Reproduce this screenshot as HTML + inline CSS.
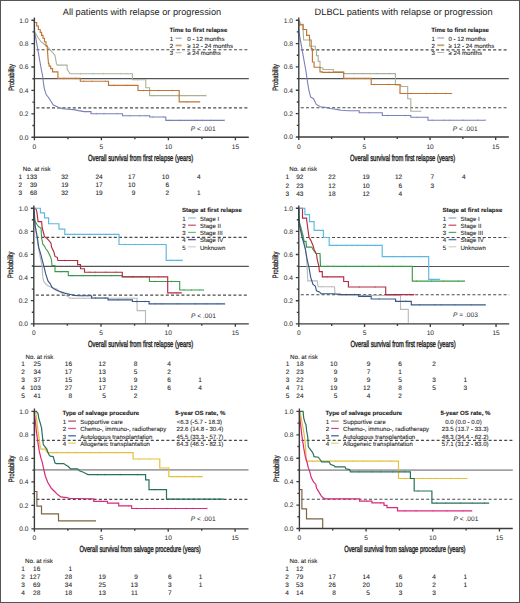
<!DOCTYPE html><html><head><meta charset="utf-8"><style>html,body{margin:0;padding:0;background:#fff}svg{display:block}text{font-family:"Liberation Sans", sans-serif;text-rendering:geometricPrecision;stroke-linejoin:round}</style></head><body>
<svg width="520" height="603" viewBox="0 0 520 603">
<rect x="0" y="0" width="520" height="603" fill="#fff"/>
<text x="62.8" y="14.7" font-size="9.22" fill="#222">All patients with relapse or progression</text>
<text x="314.6" y="14.7" font-size="9.25" fill="#222">DLBCL patients with relapse or progression</text>
<line x1="34.4" y1="78.6" x2="248.8" y2="78.6" stroke="#555" stroke-width="1.05"/>
<line x1="36.4" y1="49.7" x2="248.8" y2="49.7" stroke="#4a4a4a" stroke-width="1.15" stroke-dasharray="3 2.2"/>
<line x1="36.4" y1="107.85" x2="248.8" y2="107.85" stroke="#4a4a4a" stroke-width="1.15" stroke-dasharray="3 2.2"/>
<line x1="298.8" y1="78.6" x2="508.8" y2="78.6" stroke="#555" stroke-width="1.05"/>
<line x1="300.8" y1="49.8" x2="508.8" y2="49.8" stroke="#4a4a4a" stroke-width="1.15" stroke-dasharray="3 2.2"/>
<line x1="300.8" y1="107.75" x2="508.8" y2="107.75" stroke="#4a4a4a" stroke-width="1.15" stroke-dasharray="3 2.2"/>
<line x1="33.8" y1="266.35" x2="248.8" y2="266.35" stroke="#555" stroke-width="1.05"/>
<line x1="35.8" y1="237.4" x2="248.8" y2="237.4" stroke="#4a4a4a" stroke-width="1.15" stroke-dasharray="3 2.2"/>
<line x1="35.8" y1="295.1" x2="248.8" y2="295.1" stroke="#4a4a4a" stroke-width="1.15" stroke-dasharray="3 2.2"/>
<line x1="298.8" y1="266.4" x2="509.2" y2="266.4" stroke="#555" stroke-width="1.05"/>
<line x1="300.8" y1="237.5" x2="509.2" y2="237.5" stroke="#4a4a4a" stroke-width="1.15" stroke-dasharray="3 2.2"/>
<line x1="300.8" y1="294.7" x2="509.2" y2="294.7" stroke="#4a4a4a" stroke-width="1.15" stroke-dasharray="3 2.2"/>
<line x1="34.4" y1="469.9" x2="248.5" y2="469.9" stroke="#a2a2a2" stroke-width="1.7"/>
<line x1="36.4" y1="440.4" x2="248.5" y2="440.4" stroke="#4a4a4a" stroke-width="1.15" stroke-dasharray="3 2.2"/>
<line x1="36.4" y1="499.35" x2="248.5" y2="499.35" stroke="#4a4a4a" stroke-width="1.15" stroke-dasharray="3 2.2"/>
<line x1="299.4" y1="470.1" x2="512.8" y2="470.1" stroke="#a2a2a2" stroke-width="1.7"/>
<line x1="301.4" y1="440.4" x2="512.8" y2="440.4" stroke="#4a4a4a" stroke-width="1.15" stroke-dasharray="3 2.2"/>
<line x1="301.4" y1="499.25" x2="512.8" y2="499.25" stroke="#4a4a4a" stroke-width="1.15" stroke-dasharray="3 2.2"/>
<path d="M96.59 112.8v1.8M103.92 112.8v1.8M117.29 112.8v1.8M129.79 114.8v1.8M139.71 114.8v1.8M145.91 114.8v1.8M152.9 116.1v1.8M163.65 116.1v1.8M169.53 119.5v1.8M180.16 119.5v1.8M195.67 119.5v1.8M202.67 119.5v1.8M210.87 119.5v1.8M224.4 119.5v1.8" stroke="#7b7fba" stroke-width="0.8" fill="none" opacity="0.6"/>
<path d="M34.4 20.2V31.2L36 39.2L38 50.6L40 62L41.5 70.5L42.5 75L42.9 78.5L43.6 84.2L44.4 88.8L46.2 94.6L48.5 97.5L51.3 101.8L53.1 104.8L57.7 107L62.3 108.6L68.1 109.3L73.8 109.6L78.5 110.6L84.2 111.6H91V113.7H122.5V115.7H149.6V117H165.8V120.4H224.4" stroke="#7b7fba" stroke-width="1.1" fill="none" stroke-linejoin="miter"/>
<path d="M80.58 72.8v1.8M93.06 72.8v1.8M103.36 72.8v1.8M120.68 72.8v1.8M126.74 72.8v1.8M137.72 78.8v1.8M153.54 94.7v1.8M162.77 94.7v1.8M178.15 94.7v1.8M185.84 94.7v1.8M198.37 94.7v1.8M206.2 94.7v1.8" stroke="#a8b29a" stroke-width="0.8" fill="none" opacity="0.6"/>
<path d="M34.4 31.2L36 34L38 37.5L41 41.7L44 44L47.4 46.9L50.3 49.8L53 53L55 55.6L56.5 63.7L57.3 65.1H67.1V69L70 73.7H132.4V79.7H145.8V87.7H149.6V95.6H206.2" stroke="#a8b29a" stroke-width="1.1" fill="none" stroke-linejoin="miter"/>
<path d="M63.88 77.5v1.8M76.01 77.5v1.8M83.78 80.3v1.8M91.77 80.3v1.8M105.5 80.3v1.8M114.01 84.5v1.8M126.6 84.5v1.8M143.4 89.6v1.8M158.51 89.6v1.8M172.47 89.6v1.8M186.8 101v1.8M199.8 101v1.8" stroke="#c07434" stroke-width="0.8" fill="none" opacity="0.6"/>
<path d="M34.4 20.2V22.5H36.7V26H38.4V29.5H40.2V32.4H41.6V35.3H43V38.2H44.5V41.7H46V45.8H47.2L47.6 52L48 58L48.5 63.7H49.1V66.1H50.7V68.6H52.6V71.9H57.9V78.4H80.3V81.2H108.5V85.4H138V90.5H179.2V101.9H199.8" stroke="#c07434" stroke-width="1.15" fill="none" stroke-linejoin="miter"/>
<path d="M369.2 111.8v1.8M387.6 114.6v1.8M404.96 114.6v1.8M417.14 116.4v1.8M432.22 119.3v1.8M443.63 119.3v1.8M449.61 119.3v1.8M463.19 119.3v1.8M477.94 119.3v1.8M485.4 119.3v1.8" stroke="#7b7fba" stroke-width="0.8" fill="none" opacity="0.6"/>
<path d="M298.8 20.2V31.2L300 37.9L302 49.1L304 60.3L306 71.5L306.5 75L307.5 81.9L308.8 90L310.6 96.9L313.5 98.7L316.3 104.4L320.4 106.7L325 107.3L329.6 108.5L334.2 109L337.7 109.6L341.2 110.2L348.1 110.8H359.2V112.7H382.3V115.5H410.8V117.3H428V120.2H485.4" stroke="#7b7fba" stroke-width="1.1" fill="none" stroke-linejoin="miter"/>
<path d="M353.7 72.7v1.8M363 72.7v1.8M376.91 72.7v1.8M389.61 72.7v1.8M420.8 110.3v1.8" stroke="#a8b29a" stroke-width="0.8" fill="none" opacity="0.6"/>
<path d="M298.8 20.2V22H300.2V24.3H303.1V30.1L303.7 40H309.5V46.3H315.3V49.8H316.5V55.6H318.2V61.4H320V67.8H322.9V69.5H333.3V71.9H343.7V73.6H395.4V85H400.8V86.5H407.7V98.8H410.8V111.2H420.8" stroke="#a8b29a" stroke-width="1.1" fill="none" stroke-linejoin="miter"/>
<path d="M328.95 71.5v1.8M354.26 77.5v1.8M365.49 77.5v1.8M374.69 83.6v1.8M388.67 83.6v1.8M410.94 92.6v1.8M426.39 92.6v1.8M435.33 92.6v1.8M445.5 92.6v1.8M451.7 92.6v1.8" stroke="#c07434" stroke-width="0.8" fill="none" opacity="0.6"/>
<path d="M298.8 20.2V24.9H303.1V29.5H306.6V35.3H309.5V40H311.2V48.7H312.4V62H314.1V67.2H320V71.9H322.3V72.4H343.7V78.4H371.2V84.5H400V93.5H451.7" stroke="#c07434" stroke-width="1.15" fill="none" stroke-linejoin="miter"/>
<path d="M73.18 297.4v1.8M84.27 297.4v1.8M91.8 297.4v1.8M98.72 297.4v1.8M104.93 297.4v1.8M119.73 297.4v1.8M126.79 297.4v1.8M145.5 322.5v1.8" stroke="#b8b8b8" stroke-width="0.8" fill="none" opacity="0.6"/>
<path d="M33.8 208.2L34.5 220L36 232L38 245L40 256L42.2 267L42.8 277.4L43.9 282L45.7 283.8L47.4 285.5L53.2 287.9L56.7 289L62.5 293.7L68.3 296.6L70 298.3H137.1V310.6H145.5V323.4" stroke="#b8b8b8" stroke-width="1.1" fill="none" stroke-linejoin="miter"/>
<path d="M61.13 270.7v1.8M71.94 274.7v1.8M82.88 274.7v1.8M95.03 274.7v1.8M111.22 274.7v1.8M132.21 275.9v1.8M141.08 275.9v1.8M155.27 280.6v1.8M171.47 280.6v1.8M183.91 289.1v1.8M191.54 289.1v1.8M199.85 289.1v1.8M203.6 289.1v1.8" stroke="#3a9a4a" stroke-width="0.8" fill="none" opacity="0.6"/>
<path d="M33.8 208.2V219.2L37 224.5L38.7 226.8L41 228L41.6 237.8L42.8 244.2L44.5 246L45.7 248.8L47.4 250.6L49.1 254L50.3 256.4L51.5 259.9L52 265.5H55V271.6H68.3V275.6H122.3V276.8H149.4V281.5H179.7V290H203.6" stroke="#3a9a4a" stroke-width="1.1" fill="none" stroke-linejoin="miter"/>
<path d="M64.78 259.6v1.8M89.6 271.3v1.8M95.15 271.3v1.8M105.72 271.3v1.8M115.69 271.3v1.8M132.92 275.9v1.8M146.78 275.9v1.8M158.52 275.9v1.8M176.11 291.9v1.8M181.4 291.9v1.8" stroke="#b42a44" stroke-width="0.8" fill="none" opacity="0.6"/>
<path d="M33.8 208.2H35.2L36.4 210L37 212.9L38.1 221.6H41.6L42.2 228L43.3 232L44.5 236.7L46.2 237.8L48.6 240.1L50.9 243L51.5 247.1L53.8 251.7L55 256.4L57.3 257.5L57.9 260.5H77.6V264.6H80.5V268.7H84.5V272.2H122.3V276.8H167.7V292.8H181.4" stroke="#b42a44" stroke-width="1.15" fill="none" stroke-linejoin="miter"/>
<path d="M75 233.5v1.8M89.93 233.5v1.8M106.02 233.5v1.8M125.14 243.6v1.8M135.47 243.6v1.8M142.22 243.6v1.8M155.39 243.6v1.8M161.65 243.6v1.8M170.87 259.5v1.8M178.33 259.5v1.8M182.4 259.5v1.8" stroke="#5cb8e2" stroke-width="0.8" fill="none" opacity="0.6"/>
<path d="M33.8 208.2H40.4V212.9H44.5V217.9H48.6V223.7H59V229.1H64.8V234.4H119V244.5H166.2V260.4H182.4" stroke="#5cb8e2" stroke-width="1.15" fill="none" stroke-linejoin="miter"/>
<path d="M82.12 294.8v1.8M87.62 294.8v1.8M95.41 297.1v1.8M105.31 297.1v1.8M117.99 298.9v1.8M136.59 300.6v1.8M145.14 300.6v1.8M155.01 302.9v1.8M162 302.9v1.8M177.77 302.9v1.8M195.29 302.9v1.8M206.43 302.9v1.8M217.78 302.9v1.8M224.7 302.9v1.8" stroke="#38588a" stroke-width="0.8" fill="none" opacity="0.6"/>
<path d="M33.8 208.2L34.6 216L35.2 226.2L37.2 236.7L38.7 247.1L41 255.2L42.2 260L43.9 266.4L45.7 273.9L48 280.9L50.3 283.8L52 287.3L55 289.6L59 291.3L64.8 293.1L69.5 294.2L74.1 295.4L78.7 295.7H91.6V298H108V299.8H132.4V301.5H149.1V303.8H224.7" stroke="#38588a" stroke-width="1.15" fill="none" stroke-linejoin="miter"/>
<path d="M322.02 285.8v1.8M331.66 285.8v1.8M349.63 294.6v1.8M357.08 294.6v1.8M362.86 294.6v1.8M379.87 294.6v1.8M391.76 294.6v1.8M408.3 321.6v1.8" stroke="#b8b8b8" stroke-width="0.8" fill="none" opacity="0.6"/>
<path d="M298.8 208.2L299.6 222.7L302 230.9L303.7 237.8L306.6 257.5L307.8 280.9H317.1L318.2 286.7H334.5L335 293.7H340V295.5H400.5V309.4H408.3V322.5" stroke="#b8b8b8" stroke-width="1.1" fill="none" stroke-linejoin="miter"/>
<path d="M327.85 265.4v1.8M333.67 265.4v1.8M345.56 265.4v1.8M362.9 265.4v1.8M378.85 265.4v1.8M392.77 265.4v1.8M401.43 265.4v1.8M416.64 280.2v1.8M431.48 280.2v1.8M443.42 280.2v1.8M458.35 280.2v1.8M464.6 280.2v1.8" stroke="#3a9a4a" stroke-width="0.8" fill="none" opacity="0.6"/>
<path d="M298.8 208.2V220.4L300.2 225.6L303.1 236.7L303.7 241.3H306L306.6 247.1H311.8L313 249.4L315.9 253.5H320L320.5 266.3H412.3V281.1H464.6" stroke="#3a9a4a" stroke-width="1.15" fill="none" stroke-linejoin="miter"/>
<path d="M327.08 275.9v1.8M359.28 286.1v1.8M375.1 286.1v1.8M395.25 293.7v1.8M409.7 293.7v1.8M414 293.7v1.8" stroke="#b42a44" stroke-width="0.8" fill="none" opacity="0.6"/>
<path d="M298.8 208.2H302.5V218.1H306.6V219.2L307.8 228.5L309 237.2L310.7 240.1L313 245.4L314.1 249.4L316.5 254.1L317.1 258.7L317.6 261.2L318.8 265.8L319.4 271.6H322.3V276.8H343.7V281.5H348.4V287H385.7V294.6H414" stroke="#b42a44" stroke-width="1.15" fill="none" stroke-linejoin="miter"/>
<path d="M336.34 244.5v1.8M346.14 244.5v1.8M351.99 244.5v1.8M357.83 244.5v1.8M366.71 244.5v1.8M375.35 244.5v1.8M392.85 255.7v1.8M403.76 255.7v1.8M420.6 255.7v1.8M439.7 278.4v1.8" stroke="#5cb8e2" stroke-width="0.8" fill="none" opacity="0.6"/>
<path d="M298.8 208.2H304.9V214.6H309.5V221.6H314.1V230.3H323.4V237.5H329.2V245.4H382.2V256.6H428.7V279.3H439.7" stroke="#5cb8e2" stroke-width="1.15" fill="none" stroke-linejoin="miter"/>
<path d="M346.22 293.6v1.8M354.38 293.6v1.8M363.27 295.5v1.8M379.19 298.1v1.8M405.32 300.4v1.8M419.52 303.9v1.8M434.7 303.9v1.8M441.23 303.9v1.8M454.72 303.9v1.8M471.23 303.9v1.8M485.4 303.9v1.8" stroke="#38588a" stroke-width="0.8" fill="none" opacity="0.6"/>
<path d="M298.8 208.2V214.6L299.6 226.2L302 236.7L305.4 249.4L307.2 260L308.9 267L310.7 277.4L313 284.4L315.3 286.1L316.5 290.8L319.4 291.9L321.1 293.7H333.3L336.8 294.2H340.3V294.5H358.7V296.4H371.2V299H395.6V301.3H411.3V304.8H485.4" stroke="#38588a" stroke-width="1.15" fill="none" stroke-linejoin="miter"/>
<path d="M34.4 411.4V491.5H36.9V506.2H41.5V513.8H58.5V520.8H96" stroke="#7c6646" stroke-width="1.2" fill="none" stroke-linejoin="miter"/>
<path d="M56.4 451.7v1.8M67.69 451.7v1.8M75.35 451.7v1.8M90.39 451.7v1.8M99.92 451.7v1.8M115.11 451.7v1.8M139.27 458.1v1.8M149.62 458.1v1.8M177.6 475.7v1.8M185.16 475.7v1.8M192.19 475.7v1.8M199.52 475.7v1.8M202.3 475.7v1.8" stroke="#e4c03a" stroke-width="0.8" fill="none" opacity="0.6"/>
<path d="M34.4 411.4L35.8 413.1L37 422.4L38.1 431.7L39.3 439.8L40.2 446.8L41 449.1H45.1L47.4 452.6H133.1V459H159.8V468H168.8V476.6H202.3" stroke="#e4c03a" stroke-width="1.2" fill="none" stroke-linejoin="miter"/>
<path d="M97.45 473.7v1.8M104.72 473.7v1.8M120.22 473.7v1.8M137.58 473.7v1.8M154.8 488.8v1.8M170.55 498.3v1.8M176.22 498.3v1.8M193.47 498.3v1.8M206.83 498.3v1.8M218.7 498.3v1.8M223.5 498.3v1.8" stroke="#287060" stroke-width="0.8" fill="none" opacity="0.6"/>
<path d="M34.4 411.4H36.4L38.1 413.7L38.7 417.8L40.4 423.6L41.6 428.2L42.2 434L43.3 444.5L45.1 446.8L46.8 449.1L48 452.6L49.1 454.9L50.3 456.1L53.2 456.6L55 463L56.7 463.6H63.7L65.4 464.8L68.3 466.5L70.6 468.8H77.6L79.9 471.1L83.4 472.3L85.7 473.5L88 474.6H145.6V479.8H149V489.7H166.5V499.2H223.5" stroke="#287060" stroke-width="1.2" fill="none" stroke-linejoin="miter"/>
<path d="M100.17 500.5v1.8M128.31 504.9v1.8M136.71 507.6v1.8M145.76 507.6v1.8M154.17 507.6v1.8M166.77 507.6v1.8M175.4 507.6v1.8M185.97 507.6v1.8M193.06 507.6v1.8M207.1 507.6v1.8" stroke="#d82a7c" stroke-width="0.8" fill="none" opacity="0.6"/>
<path d="M34.4 411.4V414.3L35.2 420.1L36.4 431.7L37.5 439.8L39.3 451.4L41 458.4L42.2 461.9L43.9 470L45.4 476.2L47.7 482.3L51.5 488.5L54.6 491.5L57.7 494.6L60.8 496.9L66.9 497.7L70 498.5H76.2L91.5 498.9H93.7V501.4H107.5V503.2H118.7V505.8H131.7V508.5H207.1" stroke="#d82a7c" stroke-width="1.2" fill="none" stroke-linejoin="miter"/>
<path d="M299.4 411.4V489.6H301.9V508.8H306.5V518.8H322.7V528.1" stroke="#7c6646" stroke-width="1.2" fill="none" stroke-linejoin="miter"/>
<path d="M312.43 460.3v1.8M323.47 460.3v1.8M336.03 460.3v1.8M352.47 460.3v1.8M363.06 460.3v1.8M379.67 460.3v1.8M391.24 460.3v1.8M405.69 477.6v1.8M411.41 477.6v1.8M422.24 477.6v1.8M429.96 477.6v1.8M435.5 477.6v1.8M450.67 477.6v1.8M458.26 477.6v1.8M467.1 477.6v1.8" stroke="#e4c03a" stroke-width="0.8" fill="none" opacity="0.6"/>
<path d="M299.4 411.4L300.2 412L302 422.4L303.7 431.7L304.9 439.8L305.7 449.1L306.3 459.5L306.6 461.2H398.5V478.5H467.1" stroke="#e4c03a" stroke-width="1.2" fill="none" stroke-linejoin="miter"/>
<path d="M359.2 470.9v1.8M371.43 470.9v1.8M380.88 470.9v1.8M392.65 470.9v1.8M404.87 470.9v1.8M418.05 490.1v1.8M436.89 502.3v1.8M445.74 502.3v1.8M460.58 502.3v1.8M472.23 502.3v1.8M484.52 502.3v1.8M488.8 502.3v1.8" stroke="#287060" stroke-width="0.8" fill="none" opacity="0.6"/>
<path d="M299.4 411.4H303.1L303.7 417.8L304.9 422.4L306 424.7L306.6 430.5L307.8 437.5L308.3 446.8L310.1 449.1L311.8 451.4L313 453.2L314.1 456.6L318.2 457.2L320 459.5L321.7 461.9H329.2L330.4 464.2L334.5 465.9L335 466.8H345L345.8 468.8L349.6 469.6L350.4 471.8H410.4V478.5H414.2V491H431.9V503.2H488.8" stroke="#287060" stroke-width="1.2" fill="none" stroke-linejoin="miter"/>
<path d="M336.1 497.9v1.8M346.96 497.9v1.8M366.64 500.3v1.8M380.44 502v1.8M404.77 509.9v1.8M416.05 509.9v1.8M432.94 509.9v1.8M446.9 509.9v1.8M463.01 509.9v1.8M471.9 509.9v1.8" stroke="#d82a7c" stroke-width="0.8" fill="none" opacity="0.6"/>
<path d="M299.4 411.4V414.3L300.8 425.9L302 436.3L303.7 447.9L305.4 457.2L307.2 463L308.3 467.7L309.6 471.2L311.2 477.3L313.5 481.9L315.8 484.2L316.5 488.1L318.8 491.9L321.2 495.8L323.5 498.1L325.8 498.8H359.6V501.2H371.9V502.9H384V505.4H387V507.7H397.5V510.8H471.9" stroke="#d82a7c" stroke-width="1.2" fill="none" stroke-linejoin="miter"/>
<path d="M34.4 17.4V137.2M34.4 137.2H248.8M31.4 137.2H34.4M32.4 125.5H34.4M31.4 113.8H34.4M32.4 102.1H34.4M31.4 90.4H34.4M32.4 78.7H34.4M31.4 67H34.4M32.4 55.3H34.4M31.4 43.6H34.4M32.4 31.9H34.4M31.4 20.2H34.4M34.4 137.2V140.2M67.9 137.2V139.2M101.4 137.2V140.2M134.9 137.2V139.2M168.4 137.2V140.2M201.9 137.2V139.2M235.4 137.2V140.2" stroke="#3c3c3c" stroke-width="1.35" fill="none"/>
<text x="28.5" y="139.5" font-size="6.6" text-anchor="end" fill="#333" stroke="#333" stroke-width="0.05">0.0</text>
<text x="28.5" y="116.1" font-size="6.6" text-anchor="end" fill="#333" stroke="#333" stroke-width="0.05">0.2</text>
<text x="28.5" y="92.7" font-size="6.6" text-anchor="end" fill="#333" stroke="#333" stroke-width="0.05">0.4</text>
<text x="28.5" y="69.3" font-size="6.6" text-anchor="end" fill="#333" stroke="#333" stroke-width="0.05">0.6</text>
<text x="28.5" y="45.9" font-size="6.6" text-anchor="end" fill="#333" stroke="#333" stroke-width="0.05">0.8</text>
<text x="28.5" y="22.5" font-size="6.6" text-anchor="end" fill="#333" stroke="#333" stroke-width="0.05">1.0</text>
<text x="34.4" y="148.7" font-size="6.6" text-anchor="middle" fill="#333" stroke="#333" stroke-width="0.05">0</text>
<text x="101.4" y="148.7" font-size="6.6" text-anchor="middle" fill="#333" stroke="#333" stroke-width="0.05">5</text>
<text x="168.4" y="148.7" font-size="6.6" text-anchor="middle" fill="#333" stroke="#333" stroke-width="0.05">10</text>
<text x="235.4" y="148.7" font-size="6.6" text-anchor="middle" fill="#333" stroke="#333" stroke-width="0.05">15</text>
<path d="M298.8 17.4V137M298.8 137H508.8M295.8 137H298.8M296.8 125.32H298.8M295.8 113.64H298.8M296.8 101.96H298.8M295.8 90.28H298.8M296.8 78.6H298.8M295.8 66.92H298.8M296.8 55.24H298.8M295.8 43.56H298.8M296.8 31.88H298.8M295.8 20.2H298.8M298.8 137V140M331.61 137V139M364.43 137V140M397.24 137V139M430.05 137V140M462.86 137V139M495.68 137V140" stroke="#3c3c3c" stroke-width="1.35" fill="none"/>
<text x="292.9" y="139.3" font-size="6.6" text-anchor="end" fill="#333" stroke="#333" stroke-width="0.05">0.0</text>
<text x="292.9" y="115.94" font-size="6.6" text-anchor="end" fill="#333" stroke="#333" stroke-width="0.05">0.2</text>
<text x="292.9" y="92.58" font-size="6.6" text-anchor="end" fill="#333" stroke="#333" stroke-width="0.05">0.4</text>
<text x="292.9" y="69.22" font-size="6.6" text-anchor="end" fill="#333" stroke="#333" stroke-width="0.05">0.6</text>
<text x="292.9" y="45.86" font-size="6.6" text-anchor="end" fill="#333" stroke="#333" stroke-width="0.05">0.8</text>
<text x="292.9" y="22.5" font-size="6.6" text-anchor="end" fill="#333" stroke="#333" stroke-width="0.05">1.0</text>
<text x="298.8" y="148.5" font-size="6.6" text-anchor="middle" fill="#333" stroke="#333" stroke-width="0.05">0</text>
<text x="364.43" y="148.5" font-size="6.6" text-anchor="middle" fill="#333" stroke="#333" stroke-width="0.05">5</text>
<text x="430.05" y="148.5" font-size="6.6" text-anchor="middle" fill="#333" stroke="#333" stroke-width="0.05">10</text>
<text x="495.68" y="148.5" font-size="6.6" text-anchor="middle" fill="#333" stroke="#333" stroke-width="0.05">15</text>
<path d="M33.8 205.4V323.8M33.8 323.8H248.8M30.8 323.8H33.8M31.8 312.24H33.8M30.8 300.68H33.8M31.8 289.12H33.8M30.8 277.56H33.8M31.8 266H33.8M30.8 254.44H33.8M31.8 242.88H33.8M30.8 231.32H33.8M31.8 219.76H33.8M30.8 208.2H33.8M33.8 323.8V326.8M67.39 323.8V325.8M100.99 323.8V326.8M134.58 323.8V325.8M168.18 323.8V326.8M201.77 323.8V325.8M235.36 323.8V326.8" stroke="#3c3c3c" stroke-width="1.35" fill="none"/>
<text x="27.9" y="326.1" font-size="6.6" text-anchor="end" fill="#333" stroke="#333" stroke-width="0.05">0.0</text>
<text x="27.9" y="302.98" font-size="6.6" text-anchor="end" fill="#333" stroke="#333" stroke-width="0.05">0.2</text>
<text x="27.9" y="279.86" font-size="6.6" text-anchor="end" fill="#333" stroke="#333" stroke-width="0.05">0.4</text>
<text x="27.9" y="256.74" font-size="6.6" text-anchor="end" fill="#333" stroke="#333" stroke-width="0.05">0.6</text>
<text x="27.9" y="233.62" font-size="6.6" text-anchor="end" fill="#333" stroke="#333" stroke-width="0.05">0.8</text>
<text x="27.9" y="210.5" font-size="6.6" text-anchor="end" fill="#333" stroke="#333" stroke-width="0.05">1.0</text>
<text x="33.8" y="335.3" font-size="6.6" text-anchor="middle" fill="#333" stroke="#333" stroke-width="0.05">0</text>
<text x="100.99" y="335.3" font-size="6.6" text-anchor="middle" fill="#333" stroke="#333" stroke-width="0.05">5</text>
<text x="168.18" y="335.3" font-size="6.6" text-anchor="middle" fill="#333" stroke="#333" stroke-width="0.05">10</text>
<text x="235.36" y="335.3" font-size="6.6" text-anchor="middle" fill="#333" stroke="#333" stroke-width="0.05">15</text>
<path d="M298.8 205.4V323.9M298.8 323.9H509.2M295.8 323.9H298.8M296.8 312.33H298.8M295.8 300.76H298.8M296.8 289.19H298.8M295.8 277.62H298.8M296.8 266.05H298.8M295.8 254.48H298.8M296.8 242.91H298.8M295.8 231.34H298.8M296.8 219.77H298.8M295.8 208.2H298.8M298.8 323.9V326.9M331.68 323.9V325.9M364.55 323.9V326.9M397.43 323.9V325.9M430.3 323.9V326.9M463.17 323.9V325.9M496.05 323.9V326.9" stroke="#3c3c3c" stroke-width="1.35" fill="none"/>
<text x="292.9" y="326.2" font-size="6.6" text-anchor="end" fill="#333" stroke="#333" stroke-width="0.05">0.0</text>
<text x="292.9" y="303.06" font-size="6.6" text-anchor="end" fill="#333" stroke="#333" stroke-width="0.05">0.2</text>
<text x="292.9" y="279.92" font-size="6.6" text-anchor="end" fill="#333" stroke="#333" stroke-width="0.05">0.4</text>
<text x="292.9" y="256.78" font-size="6.6" text-anchor="end" fill="#333" stroke="#333" stroke-width="0.05">0.6</text>
<text x="292.9" y="233.64" font-size="6.6" text-anchor="end" fill="#333" stroke="#333" stroke-width="0.05">0.8</text>
<text x="292.9" y="210.5" font-size="6.6" text-anchor="end" fill="#333" stroke="#333" stroke-width="0.05">1.0</text>
<text x="298.8" y="335.4" font-size="6.6" text-anchor="middle" fill="#333" stroke="#333" stroke-width="0.05">0</text>
<text x="364.55" y="335.4" font-size="6.6" text-anchor="middle" fill="#333" stroke="#333" stroke-width="0.05">5</text>
<text x="430.3" y="335.4" font-size="6.6" text-anchor="middle" fill="#333" stroke="#333" stroke-width="0.05">10</text>
<text x="496.05" y="335.4" font-size="6.6" text-anchor="middle" fill="#333" stroke="#333" stroke-width="0.05">15</text>
<path d="M34.4 408.6V528.8M34.4 528.8H248.5M31.4 528.8H34.4M32.4 517.06H34.4M31.4 505.32H34.4M32.4 493.58H34.4M31.4 481.84H34.4M32.4 470.1H34.4M31.4 458.36H34.4M32.4 446.62H34.4M31.4 434.88H34.4M32.4 423.14H34.4M31.4 411.4H34.4M34.4 528.8V531.8M67.85 528.8V530.8M101.31 528.8V531.8M134.76 528.8V530.8M168.21 528.8V531.8M201.67 528.8V530.8M235.12 528.8V531.8" stroke="#3c3c3c" stroke-width="1.35" fill="none"/>
<text x="28.5" y="531.1" font-size="6.6" text-anchor="end" fill="#333" stroke="#333" stroke-width="0.05">0.0</text>
<text x="28.5" y="507.62" font-size="6.6" text-anchor="end" fill="#333" stroke="#333" stroke-width="0.05">0.2</text>
<text x="28.5" y="484.14" font-size="6.6" text-anchor="end" fill="#333" stroke="#333" stroke-width="0.05">0.4</text>
<text x="28.5" y="460.66" font-size="6.6" text-anchor="end" fill="#333" stroke="#333" stroke-width="0.05">0.6</text>
<text x="28.5" y="437.18" font-size="6.6" text-anchor="end" fill="#333" stroke="#333" stroke-width="0.05">0.8</text>
<text x="28.5" y="413.7" font-size="6.6" text-anchor="end" fill="#333" stroke="#333" stroke-width="0.05">1.0</text>
<text x="34.4" y="540.3" font-size="6.6" text-anchor="middle" fill="#333" stroke="#333" stroke-width="0.05">0</text>
<text x="101.31" y="540.3" font-size="6.6" text-anchor="middle" fill="#333" stroke="#333" stroke-width="0.05">5</text>
<text x="168.21" y="540.3" font-size="6.6" text-anchor="middle" fill="#333" stroke="#333" stroke-width="0.05">10</text>
<text x="235.12" y="540.3" font-size="6.6" text-anchor="middle" fill="#333" stroke="#333" stroke-width="0.05">15</text>
<path d="M299.4 408.6V528.5M299.4 528.5H512.8M296.4 528.5H299.4M297.4 516.79H299.4M296.4 505.08H299.4M297.4 493.37H299.4M296.4 481.66H299.4M297.4 469.95H299.4M296.4 458.24H299.4M297.4 446.53H299.4M296.4 434.82H299.4M297.4 423.11H299.4M296.4 411.4H299.4M299.4 528.5V531.5M332.74 528.5V530.5M366.09 528.5V531.5M399.43 528.5V530.5M432.77 528.5V531.5M466.12 528.5V530.5M499.46 528.5V531.5" stroke="#3c3c3c" stroke-width="1.35" fill="none"/>
<text x="293.5" y="530.8" font-size="6.6" text-anchor="end" fill="#333" stroke="#333" stroke-width="0.05">0.0</text>
<text x="293.5" y="507.38" font-size="6.6" text-anchor="end" fill="#333" stroke="#333" stroke-width="0.05">0.2</text>
<text x="293.5" y="483.96" font-size="6.6" text-anchor="end" fill="#333" stroke="#333" stroke-width="0.05">0.4</text>
<text x="293.5" y="460.54" font-size="6.6" text-anchor="end" fill="#333" stroke="#333" stroke-width="0.05">0.6</text>
<text x="293.5" y="437.12" font-size="6.6" text-anchor="end" fill="#333" stroke="#333" stroke-width="0.05">0.8</text>
<text x="293.5" y="413.7" font-size="6.6" text-anchor="end" fill="#333" stroke="#333" stroke-width="0.05">1.0</text>
<text x="299.4" y="540" font-size="6.6" text-anchor="middle" fill="#333" stroke="#333" stroke-width="0.05">0</text>
<text x="366.09" y="540" font-size="6.6" text-anchor="middle" fill="#333" stroke="#333" stroke-width="0.05">5</text>
<text x="432.77" y="540" font-size="6.6" text-anchor="middle" fill="#333" stroke="#333" stroke-width="0.05">10</text>
<text x="499.46" y="540" font-size="6.6" text-anchor="middle" fill="#333" stroke="#333" stroke-width="0.05">15</text>
<text x="0" y="0" font-size="7.8" font-weight="normal" text-anchor="middle" fill="#262626" stroke="#262626" stroke-width="0.30000000000000004" transform="translate(13.8 77.53) rotate(-90)" textLength="26.5" lengthAdjust="spacingAndGlyphs">Probability</text>
<text x="0" y="0" font-size="7.8" font-weight="normal" text-anchor="middle" fill="#262626" stroke="#262626" stroke-width="0.30000000000000004" transform="translate(278.2 77.43) rotate(-90)" textLength="26.5" lengthAdjust="spacingAndGlyphs">Probability</text>
<text x="0" y="0" font-size="7.8" font-weight="normal" text-anchor="middle" fill="#262626" stroke="#262626" stroke-width="0.30000000000000004" transform="translate(13.2 264.84) rotate(-90)" textLength="26.5" lengthAdjust="spacingAndGlyphs">Probability</text>
<text x="0" y="0" font-size="7.8" font-weight="normal" text-anchor="middle" fill="#262626" stroke="#262626" stroke-width="0.30000000000000004" transform="translate(278.2 264.89) rotate(-90)" textLength="26.5" lengthAdjust="spacingAndGlyphs">Probability</text>
<text x="0" y="0" font-size="7.8" font-weight="normal" text-anchor="middle" fill="#262626" stroke="#262626" stroke-width="0.30000000000000004" transform="translate(13.8 468.93) rotate(-90)" textLength="26.5" lengthAdjust="spacingAndGlyphs">Probability</text>
<text x="0" y="0" font-size="7.8" font-weight="normal" text-anchor="middle" fill="#262626" stroke="#262626" stroke-width="0.30000000000000004" transform="translate(278.8 468.78) rotate(-90)" textLength="26.5" lengthAdjust="spacingAndGlyphs">Probability</text>
<text x="88" y="160.6" font-size="8.9" font-weight="normal" fill="#262626" stroke="#262626" stroke-width="0.4" textLength="105.2" lengthAdjust="spacingAndGlyphs">Overall survival from first relapse (years)</text>
<text x="350" y="160.6" font-size="8.9" font-weight="normal" fill="#262626" stroke="#262626" stroke-width="0.4" textLength="105.2" lengthAdjust="spacingAndGlyphs">Overall survival from first relapse (years)</text>
<text x="88" y="347" font-size="8.9" font-weight="normal" fill="#262626" stroke="#262626" stroke-width="0.4" textLength="105.2" lengthAdjust="spacingAndGlyphs">Overall survival from first relapse (years)</text>
<text x="350.5" y="347" font-size="8.9" font-weight="normal" fill="#262626" stroke="#262626" stroke-width="0.4" textLength="105.2" lengthAdjust="spacingAndGlyphs">Overall survival from first relapse (years)</text>
<text x="79.5" y="552.1" font-size="8.9" font-weight="normal" fill="#262626" stroke="#262626" stroke-width="0.4" textLength="121.3" lengthAdjust="spacingAndGlyphs">Overall survival from salvage procedure (years)</text>
<text x="344.2" y="552.1" font-size="8.9" font-weight="normal" fill="#262626" stroke="#262626" stroke-width="0.4" textLength="121.3" lengthAdjust="spacingAndGlyphs">Overall survival from salvage procedure (years)</text>
<text x="203.2" y="130.5" font-size="6.6" text-anchor="middle" fill="#2a2a2a"><tspan font-style="italic">P</tspan> &lt; .001</text>
<text x="465.2" y="130.5" font-size="6.6" text-anchor="middle" fill="#2a2a2a"><tspan font-style="italic">P</tspan> &lt; .001</text>
<text x="203.5" y="318.2" font-size="6.6" text-anchor="middle" fill="#2a2a2a"><tspan font-style="italic">P</tspan> &lt; .001</text>
<text x="465.5" y="317.4" font-size="6.6" text-anchor="middle" fill="#2a2a2a"><tspan font-style="italic">P</tspan> = .003</text>
<text x="203.2" y="521" font-size="6.6" text-anchor="middle" fill="#2a2a2a"><tspan font-style="italic">P</tspan> &lt; .001</text>
<text x="466" y="521.4" font-size="6.6" text-anchor="middle" fill="#2a2a2a"><tspan font-style="italic">P</tspan> &lt; .001</text>
<text x="169.5" y="32" font-size="6.1" font-weight="bold" fill="#1a1a1a" stroke="#1a1a1a" stroke-width="0.1">Time to first relapse</text>
<text x="169.8" y="40.9" font-size="6.1" fill="#2a2a2a" stroke="#2a2a2a" stroke-width="0.1">1</text>
<line x1="175.6" y1="38.2" x2="181.6" y2="38.2" stroke="#8a8fb8" stroke-width="1.0"/>
<text x="187.3" y="40.9" font-size="6.1" fill="#2a2a2a" stroke="#2a2a2a" stroke-width="0.1">0 - 12 months</text>
<text x="169.8" y="48.15" font-size="6.1" fill="#2a2a2a" stroke="#2a2a2a" stroke-width="0.1">2</text>
<line x1="175.6" y1="45.45" x2="181.6" y2="45.45" stroke="#c9a070" stroke-width="1.8"/>
<text x="187.3" y="48.15" font-size="6.1" fill="#2a2a2a" stroke="#2a2a2a" stroke-width="0.1">&#8805; 12 - 24 months</text>
<text x="169.8" y="55.4" font-size="6.1" fill="#2a2a2a" stroke="#2a2a2a" stroke-width="0.1">3</text>
<line x1="175.6" y1="52.7" x2="181.6" y2="52.7" stroke="#b4b8a6" stroke-width="1.0"/>
<text x="187.3" y="55.4" font-size="6.1" fill="#2a2a2a" stroke="#2a2a2a" stroke-width="0.1">&#8805; 24 months</text>
<text x="431.2" y="31.8" font-size="6.1" font-weight="bold" fill="#1a1a1a" stroke="#1a1a1a" stroke-width="0.1">Time to first relapse</text>
<text x="431.5" y="40.7" font-size="6.1" fill="#2a2a2a" stroke="#2a2a2a" stroke-width="0.1">1</text>
<line x1="437.3" y1="38" x2="444.2" y2="38" stroke="#8a8fb8" stroke-width="1.0"/>
<text x="448.5" y="40.7" font-size="6.1" fill="#2a2a2a" stroke="#2a2a2a" stroke-width="0.1">0 - 12 months</text>
<text x="431.5" y="47.95" font-size="6.1" fill="#2a2a2a" stroke="#2a2a2a" stroke-width="0.1">2</text>
<line x1="437.3" y1="45.25" x2="444.2" y2="45.25" stroke="#c9a070" stroke-width="1.8"/>
<text x="448.5" y="47.95" font-size="6.1" fill="#2a2a2a" stroke="#2a2a2a" stroke-width="0.1">&#8805; 12 - 24 months</text>
<text x="431.5" y="55.2" font-size="6.1" fill="#2a2a2a" stroke="#2a2a2a" stroke-width="0.1">3</text>
<line x1="437.3" y1="52.5" x2="444.2" y2="52.5" stroke="#b4b8a6" stroke-width="1.0"/>
<text x="448.5" y="55.2" font-size="6.1" fill="#2a2a2a" stroke="#2a2a2a" stroke-width="0.1">&#8805; 24 months</text>
<text x="181.9" y="211.6" font-size="6.1" font-weight="bold" fill="#1a1a1a" stroke="#1a1a1a" stroke-width="0.1">Stage at first relapse</text>
<text x="182.2" y="220.7" font-size="6.1" fill="#2a2a2a" stroke="#2a2a2a" stroke-width="0.1">1</text>
<line x1="188.1" y1="218" x2="195.8" y2="218" stroke="#8cc4e4" stroke-width="1.2"/>
<text x="199.9" y="220.7" font-size="6.1" fill="#2a2a2a" stroke="#2a2a2a" stroke-width="0.1">Stage I</text>
<text x="182.2" y="227.9" font-size="6.1" fill="#2a2a2a" stroke="#2a2a2a" stroke-width="0.1">2</text>
<line x1="188.1" y1="225.2" x2="195.8" y2="225.2" stroke="#c84a5c" stroke-width="1.2"/>
<text x="199.9" y="227.9" font-size="6.1" fill="#2a2a2a" stroke="#2a2a2a" stroke-width="0.1">Stage II</text>
<text x="182.2" y="235.1" font-size="6.1" fill="#2a2a2a" stroke="#2a2a2a" stroke-width="0.1">3</text>
<line x1="188.1" y1="232.4" x2="195.8" y2="232.4" stroke="#6cbc6c" stroke-width="1.2"/>
<text x="199.9" y="235.1" font-size="6.1" fill="#2a2a2a" stroke="#2a2a2a" stroke-width="0.1">Stage III</text>
<text x="182.2" y="242.3" font-size="6.1" fill="#2a2a2a" stroke="#2a2a2a" stroke-width="0.1">4</text>
<line x1="188.1" y1="239.6" x2="195.8" y2="239.6" stroke="#5a5ea0" stroke-width="1.4"/>
<text x="199.9" y="242.3" font-size="6.1" fill="#2a2a2a" stroke="#2a2a2a" stroke-width="0.1">Stage IV</text>
<text x="182.2" y="249.5" font-size="6.1" fill="#2a2a2a" stroke="#2a2a2a" stroke-width="0.1">5</text>
<line x1="188.1" y1="246.8" x2="195.8" y2="246.8" stroke="#cfcfcf" stroke-width="1.2"/>
<text x="199.9" y="249.5" font-size="6.1" fill="#2a2a2a" stroke="#2a2a2a" stroke-width="0.1">Unknown</text>
<text x="442.4" y="211.6" font-size="6.1" font-weight="bold" fill="#1a1a1a" stroke="#1a1a1a" stroke-width="0.1">Stage at first relapse</text>
<text x="442.7" y="220.7" font-size="6.1" fill="#2a2a2a" stroke="#2a2a2a" stroke-width="0.1">1</text>
<line x1="448.6" y1="218" x2="456.3" y2="218" stroke="#84acc8" stroke-width="1.2"/>
<text x="460.4" y="220.7" font-size="6.1" fill="#2a2a2a" stroke="#2a2a2a" stroke-width="0.1">Stage I</text>
<text x="442.7" y="227.9" font-size="6.1" fill="#2a2a2a" stroke="#2a2a2a" stroke-width="0.1">2</text>
<line x1="448.6" y1="225.2" x2="456.3" y2="225.2" stroke="#d0405a" stroke-width="1.2"/>
<text x="460.4" y="227.9" font-size="6.1" fill="#2a2a2a" stroke="#2a2a2a" stroke-width="0.1">Stage II</text>
<text x="442.7" y="235.1" font-size="6.1" fill="#2a2a2a" stroke="#2a2a2a" stroke-width="0.1">3</text>
<line x1="448.6" y1="232.4" x2="456.3" y2="232.4" stroke="#5aa868" stroke-width="1.2"/>
<text x="460.4" y="235.1" font-size="6.1" fill="#2a2a2a" stroke="#2a2a2a" stroke-width="0.1">Stage III</text>
<text x="442.7" y="242.3" font-size="6.1" fill="#2a2a2a" stroke="#2a2a2a" stroke-width="0.1">4</text>
<line x1="448.6" y1="239.6" x2="456.3" y2="239.6" stroke="#5a7ca0" stroke-width="1.4"/>
<text x="460.4" y="242.3" font-size="6.1" fill="#2a2a2a" stroke="#2a2a2a" stroke-width="0.1">Stage IV</text>
<text x="442.7" y="249.5" font-size="6.1" fill="#2a2a2a" stroke="#2a2a2a" stroke-width="0.1">5</text>
<line x1="448.6" y1="246.8" x2="456.3" y2="246.8" stroke="#cfcfcf" stroke-width="1.2"/>
<text x="460.4" y="249.5" font-size="6.1" fill="#2a2a2a" stroke="#2a2a2a" stroke-width="0.1">Unknown</text>
<text x="62.4" y="414.9" font-size="6.1" font-weight="bold" fill="#1a1a1a" stroke="#1a1a1a" stroke-width="0.1">Type of salvage procedure</text>
<text x="62.7" y="423.8" font-size="6.1" fill="#2a2a2a" stroke="#2a2a2a" stroke-width="0.1">1</text>
<line x1="68.2" y1="421.1" x2="75.9" y2="421.1" stroke="#a04a5c" stroke-width="1.2"/>
<text x="80.2" y="423.8" font-size="6.1" fill="#2a2a2a" stroke="#2a2a2a" stroke-width="0.1">Supportive care</text>
<text x="62.7" y="431.15" font-size="6.1" fill="#2a2a2a" stroke="#2a2a2a" stroke-width="0.1">2</text>
<line x1="68.2" y1="428.45" x2="75.9" y2="428.45" stroke="#d8589c" stroke-width="1.3"/>
<text x="80.2" y="431.15" font-size="6.1" fill="#2a2a2a" stroke="#2a2a2a" stroke-width="0.1">Chemo-, immuno-, radiotherapy</text>
<text x="62.7" y="438.5" font-size="6.1" fill="#2a2a2a" stroke="#2a2a2a" stroke-width="0.1">3</text>
<line x1="68.2" y1="435.8" x2="75.9" y2="435.8" stroke="#3c6ca0" stroke-width="1.3"/>
<text x="80.2" y="438.5" font-size="6.1" fill="#2a2a2a" stroke="#2a2a2a" stroke-width="0.1">Autologous transplantation</text>
<text x="62.7" y="445.85" font-size="6.1" fill="#2a2a2a" stroke="#2a2a2a" stroke-width="0.1">4</text>
<line x1="68.2" y1="443.15" x2="75.9" y2="443.15" stroke="#e8d264" stroke-width="1.3"/>
<text x="80.2" y="445.85" font-size="6.1" fill="#2a2a2a" stroke="#2a2a2a" stroke-width="0.1">Allogeneic transplantation</text>
<text x="325.5" y="414.9" font-size="6.1" font-weight="bold" fill="#1a1a1a" stroke="#1a1a1a" stroke-width="0.1">Type of salvage procedure</text>
<text x="325.8" y="423.8" font-size="6.1" fill="#2a2a2a" stroke="#2a2a2a" stroke-width="0.1">1</text>
<line x1="331.1" y1="421.1" x2="338.8" y2="421.1" stroke="#9a8a6a" stroke-width="1.2"/>
<text x="343.1" y="423.8" font-size="6.1" fill="#2a2a2a" stroke="#2a2a2a" stroke-width="0.1">Supportive care</text>
<text x="325.8" y="431.15" font-size="6.1" fill="#2a2a2a" stroke="#2a2a2a" stroke-width="0.1">2</text>
<line x1="331.1" y1="428.45" x2="338.8" y2="428.45" stroke="#c8488c" stroke-width="1.2"/>
<text x="343.1" y="431.15" font-size="6.1" fill="#2a2a2a" stroke="#2a2a2a" stroke-width="0.1">Chemo-, immuno-, radiotherapy</text>
<text x="325.8" y="438.5" font-size="6.1" fill="#2a2a2a" stroke="#2a2a2a" stroke-width="0.1">3</text>
<line x1="331.1" y1="435.8" x2="338.8" y2="435.8" stroke="#3c7090" stroke-width="1.3"/>
<text x="343.1" y="438.5" font-size="6.1" fill="#2a2a2a" stroke="#2a2a2a" stroke-width="0.1">Autologous transplantation</text>
<text x="325.8" y="445.85" font-size="6.1" fill="#2a2a2a" stroke="#2a2a2a" stroke-width="0.1">4</text>
<line x1="331.1" y1="443.15" x2="338.8" y2="443.15" stroke="#e8d27a" stroke-width="1.2"/>
<text x="343.1" y="445.85" font-size="6.1" fill="#2a2a2a" stroke="#2a2a2a" stroke-width="0.1">Allogeneic transplantation</text>
<text x="175.2" y="415" font-size="6.1" font-weight="bold" fill="#1a1a1a" stroke="#1a1a1a" stroke-width="0.1">5-year OS rate, %</text>
<text x="176.6" y="423.8" font-size="6.1" fill="#2a2a2a" stroke="#2a2a2a" stroke-width="0.1">&lt;6.3 (-5.7 - 18.3)</text>
<text x="176.6" y="431.15" font-size="6.1" fill="#2a2a2a" stroke="#2a2a2a" stroke-width="0.1">22.6 (14.8 - 30.4)</text>
<text x="176.6" y="438.5" font-size="6.1" fill="#2a2a2a" stroke="#2a2a2a" stroke-width="0.1">45.5 (33.3 - 57.7)</text>
<text x="176.6" y="445.85" font-size="6.1" fill="#2a2a2a" stroke="#2a2a2a" stroke-width="0.1">64.3 (46.5 - 82.1)</text>
<text x="440.4" y="415" font-size="6.1" font-weight="bold" fill="#1a1a1a" stroke="#1a1a1a" stroke-width="0.1">5-year OS rate, %</text>
<text x="445.2" y="423.8" font-size="6.1" fill="#2a2a2a" stroke="#2a2a2a" stroke-width="0.1">0.0 (0.0 - 0.0)</text>
<text x="441.8" y="431.15" font-size="6.1" fill="#2a2a2a" stroke="#2a2a2a" stroke-width="0.1">23.5 (13.7 - 33.3)</text>
<text x="441.8" y="438.5" font-size="6.1" fill="#2a2a2a" stroke="#2a2a2a" stroke-width="0.1">48.3 (34.4 - 62.2)</text>
<text x="441.8" y="445.85" font-size="6.1" fill="#2a2a2a" stroke="#2a2a2a" stroke-width="0.1">57.1 (31.2 - 83.0)</text>
<text x="22.8" y="171.2" font-size="6.2" fill="#2a2a2a" stroke="#2a2a2a" stroke-width="0.1">No. at risk</text>
<text x="20.2" y="179.3" font-size="6.5" text-anchor="middle" fill="#2a2a2a" stroke="#2a2a2a" stroke-width="0.1">1</text>
<text x="37.2" y="179.3" font-size="6.5" text-anchor="end" fill="#2a2a2a" stroke="#2a2a2a" stroke-width="0.1">133</text>
<text x="68.4" y="179.3" font-size="6.5" text-anchor="end" fill="#2a2a2a" stroke="#2a2a2a" stroke-width="0.1">32</text>
<text x="102.7" y="179.3" font-size="6.5" text-anchor="end" fill="#2a2a2a" stroke="#2a2a2a" stroke-width="0.1">24</text>
<text x="135.3" y="179.3" font-size="6.5" text-anchor="end" fill="#2a2a2a" stroke="#2a2a2a" stroke-width="0.1">17</text>
<text x="169" y="179.3" font-size="6.5" text-anchor="end" fill="#2a2a2a" stroke="#2a2a2a" stroke-width="0.1">10</text>
<text x="200.5" y="179.3" font-size="6.5" text-anchor="end" fill="#2a2a2a" stroke="#2a2a2a" stroke-width="0.1">4</text>
<text x="20.2" y="187.4" font-size="6.5" text-anchor="middle" fill="#2a2a2a" stroke="#2a2a2a" stroke-width="0.1">2</text>
<text x="37.2" y="187.4" font-size="6.5" text-anchor="end" fill="#2a2a2a" stroke="#2a2a2a" stroke-width="0.1">39</text>
<text x="68.4" y="187.4" font-size="6.5" text-anchor="end" fill="#2a2a2a" stroke="#2a2a2a" stroke-width="0.1">19</text>
<text x="102.7" y="187.4" font-size="6.5" text-anchor="end" fill="#2a2a2a" stroke="#2a2a2a" stroke-width="0.1">17</text>
<text x="135.3" y="187.4" font-size="6.5" text-anchor="end" fill="#2a2a2a" stroke="#2a2a2a" stroke-width="0.1">10</text>
<text x="169" y="187.4" font-size="6.5" text-anchor="end" fill="#2a2a2a" stroke="#2a2a2a" stroke-width="0.1">6</text>
<text x="20.2" y="195.4" font-size="6.5" text-anchor="middle" fill="#2a2a2a" stroke="#2a2a2a" stroke-width="0.1">3</text>
<text x="37.2" y="195.4" font-size="6.5" text-anchor="end" fill="#2a2a2a" stroke="#2a2a2a" stroke-width="0.1">68</text>
<text x="68.4" y="195.4" font-size="6.5" text-anchor="end" fill="#2a2a2a" stroke="#2a2a2a" stroke-width="0.1">32</text>
<text x="102.7" y="195.4" font-size="6.5" text-anchor="end" fill="#2a2a2a" stroke="#2a2a2a" stroke-width="0.1">19</text>
<text x="135.3" y="195.4" font-size="6.5" text-anchor="end" fill="#2a2a2a" stroke="#2a2a2a" stroke-width="0.1">9</text>
<text x="169" y="195.4" font-size="6.5" text-anchor="end" fill="#2a2a2a" stroke="#2a2a2a" stroke-width="0.1">2</text>
<text x="200.5" y="195.4" font-size="6.5" text-anchor="end" fill="#2a2a2a" stroke="#2a2a2a" stroke-width="0.1">1</text>
<text x="289.2" y="170.8" font-size="6.2" fill="#2a2a2a" stroke="#2a2a2a" stroke-width="0.1">No. at risk</text>
<text x="287.3" y="179.2" font-size="6.5" text-anchor="middle" fill="#2a2a2a" stroke="#2a2a2a" stroke-width="0.1">1</text>
<text x="303.4" y="179.2" font-size="6.5" text-anchor="end" fill="#2a2a2a" stroke="#2a2a2a" stroke-width="0.1">92</text>
<text x="335.5" y="179.2" font-size="6.5" text-anchor="end" fill="#2a2a2a" stroke="#2a2a2a" stroke-width="0.1">22</text>
<text x="369.7" y="179.2" font-size="6.5" text-anchor="end" fill="#2a2a2a" stroke="#2a2a2a" stroke-width="0.1">19</text>
<text x="402.2" y="179.2" font-size="6.5" text-anchor="end" fill="#2a2a2a" stroke="#2a2a2a" stroke-width="0.1">12</text>
<text x="434.1" y="179.2" font-size="6.5" text-anchor="end" fill="#2a2a2a" stroke="#2a2a2a" stroke-width="0.1">7</text>
<text x="465.7" y="179.2" font-size="6.5" text-anchor="end" fill="#2a2a2a" stroke="#2a2a2a" stroke-width="0.1">4</text>
<text x="287.3" y="187.5" font-size="6.5" text-anchor="middle" fill="#2a2a2a" stroke="#2a2a2a" stroke-width="0.1">2</text>
<text x="303.4" y="187.5" font-size="6.5" text-anchor="end" fill="#2a2a2a" stroke="#2a2a2a" stroke-width="0.1">23</text>
<text x="335.5" y="187.5" font-size="6.5" text-anchor="end" fill="#2a2a2a" stroke="#2a2a2a" stroke-width="0.1">12</text>
<text x="369.7" y="187.5" font-size="6.5" text-anchor="end" fill="#2a2a2a" stroke="#2a2a2a" stroke-width="0.1">10</text>
<text x="402.2" y="187.5" font-size="6.5" text-anchor="end" fill="#2a2a2a" stroke="#2a2a2a" stroke-width="0.1">6</text>
<text x="434.1" y="187.5" font-size="6.5" text-anchor="end" fill="#2a2a2a" stroke="#2a2a2a" stroke-width="0.1">3</text>
<text x="287.3" y="195.6" font-size="6.5" text-anchor="middle" fill="#2a2a2a" stroke="#2a2a2a" stroke-width="0.1">3</text>
<text x="303.4" y="195.6" font-size="6.5" text-anchor="end" fill="#2a2a2a" stroke="#2a2a2a" stroke-width="0.1">43</text>
<text x="335.5" y="195.6" font-size="6.5" text-anchor="end" fill="#2a2a2a" stroke="#2a2a2a" stroke-width="0.1">18</text>
<text x="369.7" y="195.6" font-size="6.5" text-anchor="end" fill="#2a2a2a" stroke="#2a2a2a" stroke-width="0.1">12</text>
<text x="402.2" y="195.6" font-size="6.5" text-anchor="end" fill="#2a2a2a" stroke="#2a2a2a" stroke-width="0.1">4</text>
<text x="25.5" y="358.5" font-size="6.2" fill="#2a2a2a" stroke="#2a2a2a" stroke-width="0.1">No. at risk</text>
<text x="23" y="366" font-size="6.5" text-anchor="middle" fill="#2a2a2a" stroke="#2a2a2a" stroke-width="0.1">1</text>
<text x="40.8" y="366" font-size="6.5" text-anchor="end" fill="#2a2a2a" stroke="#2a2a2a" stroke-width="0.1">25</text>
<text x="72.05" y="366" font-size="6.5" text-anchor="end" fill="#2a2a2a" stroke="#2a2a2a" stroke-width="0.1">16</text>
<text x="105.8" y="366" font-size="6.5" text-anchor="end" fill="#2a2a2a" stroke="#2a2a2a" stroke-width="0.1">12</text>
<text x="137.3" y="366" font-size="6.5" text-anchor="end" fill="#2a2a2a" stroke="#2a2a2a" stroke-width="0.1">8</text>
<text x="170.9" y="366" font-size="6.5" text-anchor="end" fill="#2a2a2a" stroke="#2a2a2a" stroke-width="0.1">4</text>
<text x="23" y="374" font-size="6.5" text-anchor="middle" fill="#2a2a2a" stroke="#2a2a2a" stroke-width="0.1">2</text>
<text x="40.8" y="374" font-size="6.5" text-anchor="end" fill="#2a2a2a" stroke="#2a2a2a" stroke-width="0.1">34</text>
<text x="72.05" y="374" font-size="6.5" text-anchor="end" fill="#2a2a2a" stroke="#2a2a2a" stroke-width="0.1">17</text>
<text x="105.8" y="374" font-size="6.5" text-anchor="end" fill="#2a2a2a" stroke="#2a2a2a" stroke-width="0.1">13</text>
<text x="137.3" y="374" font-size="6.5" text-anchor="end" fill="#2a2a2a" stroke="#2a2a2a" stroke-width="0.1">5</text>
<text x="170.9" y="374" font-size="6.5" text-anchor="end" fill="#2a2a2a" stroke="#2a2a2a" stroke-width="0.1">2</text>
<text x="23" y="382" font-size="6.5" text-anchor="middle" fill="#2a2a2a" stroke="#2a2a2a" stroke-width="0.1">3</text>
<text x="40.8" y="382" font-size="6.5" text-anchor="end" fill="#2a2a2a" stroke="#2a2a2a" stroke-width="0.1">37</text>
<text x="72.05" y="382" font-size="6.5" text-anchor="end" fill="#2a2a2a" stroke="#2a2a2a" stroke-width="0.1">15</text>
<text x="105.8" y="382" font-size="6.5" text-anchor="end" fill="#2a2a2a" stroke="#2a2a2a" stroke-width="0.1">13</text>
<text x="137.3" y="382" font-size="6.5" text-anchor="end" fill="#2a2a2a" stroke="#2a2a2a" stroke-width="0.1">9</text>
<text x="170.9" y="382" font-size="6.5" text-anchor="end" fill="#2a2a2a" stroke="#2a2a2a" stroke-width="0.1">6</text>
<text x="201.9" y="382" font-size="6.5" text-anchor="end" fill="#2a2a2a" stroke="#2a2a2a" stroke-width="0.1">1</text>
<text x="23" y="390" font-size="6.5" text-anchor="middle" fill="#2a2a2a" stroke="#2a2a2a" stroke-width="0.1">4</text>
<text x="40.8" y="390" font-size="6.5" text-anchor="end" fill="#2a2a2a" stroke="#2a2a2a" stroke-width="0.1">103</text>
<text x="72.05" y="390" font-size="6.5" text-anchor="end" fill="#2a2a2a" stroke="#2a2a2a" stroke-width="0.1">27</text>
<text x="105.8" y="390" font-size="6.5" text-anchor="end" fill="#2a2a2a" stroke="#2a2a2a" stroke-width="0.1">17</text>
<text x="137.3" y="390" font-size="6.5" text-anchor="end" fill="#2a2a2a" stroke="#2a2a2a" stroke-width="0.1">12</text>
<text x="170.9" y="390" font-size="6.5" text-anchor="end" fill="#2a2a2a" stroke="#2a2a2a" stroke-width="0.1">6</text>
<text x="201.9" y="390" font-size="6.5" text-anchor="end" fill="#2a2a2a" stroke="#2a2a2a" stroke-width="0.1">4</text>
<text x="23" y="398" font-size="6.5" text-anchor="middle" fill="#2a2a2a" stroke="#2a2a2a" stroke-width="0.1">5</text>
<text x="40.8" y="398" font-size="6.5" text-anchor="end" fill="#2a2a2a" stroke="#2a2a2a" stroke-width="0.1">41</text>
<text x="72.05" y="398" font-size="6.5" text-anchor="end" fill="#2a2a2a" stroke="#2a2a2a" stroke-width="0.1">8</text>
<text x="105.8" y="398" font-size="6.5" text-anchor="end" fill="#2a2a2a" stroke="#2a2a2a" stroke-width="0.1">5</text>
<text x="137.3" y="398" font-size="6.5" text-anchor="end" fill="#2a2a2a" stroke="#2a2a2a" stroke-width="0.1">2</text>
<text x="290" y="358.5" font-size="6.2" fill="#2a2a2a" stroke="#2a2a2a" stroke-width="0.1">No. at risk</text>
<text x="287.5" y="366" font-size="6.5" text-anchor="middle" fill="#2a2a2a" stroke="#2a2a2a" stroke-width="0.1">1</text>
<text x="303.55" y="366" font-size="6.5" text-anchor="end" fill="#2a2a2a" stroke="#2a2a2a" stroke-width="0.1">18</text>
<text x="337.3" y="366" font-size="6.5" text-anchor="end" fill="#2a2a2a" stroke="#2a2a2a" stroke-width="0.1">10</text>
<text x="370.3" y="366" font-size="6.5" text-anchor="end" fill="#2a2a2a" stroke="#2a2a2a" stroke-width="0.1">9</text>
<text x="401.8" y="366" font-size="6.5" text-anchor="end" fill="#2a2a2a" stroke="#2a2a2a" stroke-width="0.1">6</text>
<text x="435.8" y="366" font-size="6.5" text-anchor="end" fill="#2a2a2a" stroke="#2a2a2a" stroke-width="0.1">2</text>
<text x="287.5" y="374" font-size="6.5" text-anchor="middle" fill="#2a2a2a" stroke="#2a2a2a" stroke-width="0.1">2</text>
<text x="303.55" y="374" font-size="6.5" text-anchor="end" fill="#2a2a2a" stroke="#2a2a2a" stroke-width="0.1">23</text>
<text x="337.3" y="374" font-size="6.5" text-anchor="end" fill="#2a2a2a" stroke="#2a2a2a" stroke-width="0.1">9</text>
<text x="370.3" y="374" font-size="6.5" text-anchor="end" fill="#2a2a2a" stroke="#2a2a2a" stroke-width="0.1">7</text>
<text x="401.8" y="374" font-size="6.5" text-anchor="end" fill="#2a2a2a" stroke="#2a2a2a" stroke-width="0.1">1</text>
<text x="287.5" y="382" font-size="6.5" text-anchor="middle" fill="#2a2a2a" stroke="#2a2a2a" stroke-width="0.1">3</text>
<text x="303.55" y="382" font-size="6.5" text-anchor="end" fill="#2a2a2a" stroke="#2a2a2a" stroke-width="0.1">22</text>
<text x="337.3" y="382" font-size="6.5" text-anchor="end" fill="#2a2a2a" stroke="#2a2a2a" stroke-width="0.1">9</text>
<text x="370.3" y="382" font-size="6.5" text-anchor="end" fill="#2a2a2a" stroke="#2a2a2a" stroke-width="0.1">9</text>
<text x="401.8" y="382" font-size="6.5" text-anchor="end" fill="#2a2a2a" stroke="#2a2a2a" stroke-width="0.1">5</text>
<text x="435.8" y="382" font-size="6.5" text-anchor="end" fill="#2a2a2a" stroke="#2a2a2a" stroke-width="0.1">3</text>
<text x="467" y="382" font-size="6.5" text-anchor="end" fill="#2a2a2a" stroke="#2a2a2a" stroke-width="0.1">1</text>
<text x="287.5" y="390" font-size="6.5" text-anchor="middle" fill="#2a2a2a" stroke="#2a2a2a" stroke-width="0.1">4</text>
<text x="303.55" y="390" font-size="6.5" text-anchor="end" fill="#2a2a2a" stroke="#2a2a2a" stroke-width="0.1">71</text>
<text x="337.3" y="390" font-size="6.5" text-anchor="end" fill="#2a2a2a" stroke="#2a2a2a" stroke-width="0.1">19</text>
<text x="370.3" y="390" font-size="6.5" text-anchor="end" fill="#2a2a2a" stroke="#2a2a2a" stroke-width="0.1">12</text>
<text x="401.8" y="390" font-size="6.5" text-anchor="end" fill="#2a2a2a" stroke="#2a2a2a" stroke-width="0.1">8</text>
<text x="435.8" y="390" font-size="6.5" text-anchor="end" fill="#2a2a2a" stroke="#2a2a2a" stroke-width="0.1">5</text>
<text x="467" y="390" font-size="6.5" text-anchor="end" fill="#2a2a2a" stroke="#2a2a2a" stroke-width="0.1">3</text>
<text x="287.5" y="398" font-size="6.5" text-anchor="middle" fill="#2a2a2a" stroke="#2a2a2a" stroke-width="0.1">5</text>
<text x="303.55" y="398" font-size="6.5" text-anchor="end" fill="#2a2a2a" stroke="#2a2a2a" stroke-width="0.1">24</text>
<text x="337.3" y="398" font-size="6.5" text-anchor="end" fill="#2a2a2a" stroke="#2a2a2a" stroke-width="0.1">5</text>
<text x="370.3" y="398" font-size="6.5" text-anchor="end" fill="#2a2a2a" stroke="#2a2a2a" stroke-width="0.1">4</text>
<text x="401.8" y="398" font-size="6.5" text-anchor="end" fill="#2a2a2a" stroke="#2a2a2a" stroke-width="0.1">2</text>
<text x="25" y="562.7" font-size="6.2" fill="#2a2a2a" stroke="#2a2a2a" stroke-width="0.1">No. at risk</text>
<text x="23" y="570.5" font-size="6.5" text-anchor="middle" fill="#2a2a2a" stroke="#2a2a2a" stroke-width="0.1">1</text>
<text x="40.3" y="570.5" font-size="6.5" text-anchor="end" fill="#2a2a2a" stroke="#2a2a2a" stroke-width="0.1">16</text>
<text x="72.05" y="570.5" font-size="6.5" text-anchor="end" fill="#2a2a2a" stroke="#2a2a2a" stroke-width="0.1">1</text>
<text x="23" y="578.5" font-size="6.5" text-anchor="middle" fill="#2a2a2a" stroke="#2a2a2a" stroke-width="0.1">2</text>
<text x="40.3" y="578.5" font-size="6.5" text-anchor="end" fill="#2a2a2a" stroke="#2a2a2a" stroke-width="0.1">127</text>
<text x="72.05" y="578.5" font-size="6.5" text-anchor="end" fill="#2a2a2a" stroke="#2a2a2a" stroke-width="0.1">28</text>
<text x="105.8" y="578.5" font-size="6.5" text-anchor="end" fill="#2a2a2a" stroke="#2a2a2a" stroke-width="0.1">19</text>
<text x="137.8" y="578.5" font-size="6.5" text-anchor="end" fill="#2a2a2a" stroke="#2a2a2a" stroke-width="0.1">9</text>
<text x="171.5" y="578.5" font-size="6.5" text-anchor="end" fill="#2a2a2a" stroke="#2a2a2a" stroke-width="0.1">6</text>
<text x="202.4" y="578.5" font-size="6.5" text-anchor="end" fill="#2a2a2a" stroke="#2a2a2a" stroke-width="0.1">1</text>
<text x="23" y="586.5" font-size="6.5" text-anchor="middle" fill="#2a2a2a" stroke="#2a2a2a" stroke-width="0.1">3</text>
<text x="40.3" y="586.5" font-size="6.5" text-anchor="end" fill="#2a2a2a" stroke="#2a2a2a" stroke-width="0.1">69</text>
<text x="72.05" y="586.5" font-size="6.5" text-anchor="end" fill="#2a2a2a" stroke="#2a2a2a" stroke-width="0.1">34</text>
<text x="105.8" y="586.5" font-size="6.5" text-anchor="end" fill="#2a2a2a" stroke="#2a2a2a" stroke-width="0.1">25</text>
<text x="137.8" y="586.5" font-size="6.5" text-anchor="end" fill="#2a2a2a" stroke="#2a2a2a" stroke-width="0.1">13</text>
<text x="171.5" y="586.5" font-size="6.5" text-anchor="end" fill="#2a2a2a" stroke="#2a2a2a" stroke-width="0.1">3</text>
<text x="202.4" y="586.5" font-size="6.5" text-anchor="end" fill="#2a2a2a" stroke="#2a2a2a" stroke-width="0.1">1</text>
<text x="23" y="594.5" font-size="6.5" text-anchor="middle" fill="#2a2a2a" stroke="#2a2a2a" stroke-width="0.1">4</text>
<text x="40.3" y="594.5" font-size="6.5" text-anchor="end" fill="#2a2a2a" stroke="#2a2a2a" stroke-width="0.1">28</text>
<text x="72.05" y="594.5" font-size="6.5" text-anchor="end" fill="#2a2a2a" stroke="#2a2a2a" stroke-width="0.1">18</text>
<text x="105.8" y="594.5" font-size="6.5" text-anchor="end" fill="#2a2a2a" stroke="#2a2a2a" stroke-width="0.1">13</text>
<text x="137.8" y="594.5" font-size="6.5" text-anchor="end" fill="#2a2a2a" stroke="#2a2a2a" stroke-width="0.1">11</text>
<text x="171.5" y="594.5" font-size="6.5" text-anchor="end" fill="#2a2a2a" stroke="#2a2a2a" stroke-width="0.1">7</text>
<text x="289.5" y="562.7" font-size="6.2" fill="#2a2a2a" stroke="#2a2a2a" stroke-width="0.1">No. at risk</text>
<text x="287" y="570.5" font-size="6.5" text-anchor="middle" fill="#2a2a2a" stroke="#2a2a2a" stroke-width="0.1">1</text>
<text x="303.3" y="570.5" font-size="6.5" text-anchor="end" fill="#2a2a2a" stroke="#2a2a2a" stroke-width="0.1">12</text>
<text x="287" y="578.5" font-size="6.5" text-anchor="middle" fill="#2a2a2a" stroke="#2a2a2a" stroke-width="0.1">2</text>
<text x="303.3" y="578.5" font-size="6.5" text-anchor="end" fill="#2a2a2a" stroke="#2a2a2a" stroke-width="0.1">79</text>
<text x="335.8" y="578.5" font-size="6.5" text-anchor="end" fill="#2a2a2a" stroke="#2a2a2a" stroke-width="0.1">17</text>
<text x="369.8" y="578.5" font-size="6.5" text-anchor="end" fill="#2a2a2a" stroke="#2a2a2a" stroke-width="0.1">14</text>
<text x="402.4" y="578.5" font-size="6.5" text-anchor="end" fill="#2a2a2a" stroke="#2a2a2a" stroke-width="0.1">6</text>
<text x="435.8" y="578.5" font-size="6.5" text-anchor="end" fill="#2a2a2a" stroke="#2a2a2a" stroke-width="0.1">4</text>
<text x="467" y="578.5" font-size="6.5" text-anchor="end" fill="#2a2a2a" stroke="#2a2a2a" stroke-width="0.1">1</text>
<text x="287" y="586.5" font-size="6.5" text-anchor="middle" fill="#2a2a2a" stroke="#2a2a2a" stroke-width="0.1">3</text>
<text x="303.3" y="586.5" font-size="6.5" text-anchor="end" fill="#2a2a2a" stroke="#2a2a2a" stroke-width="0.1">53</text>
<text x="335.8" y="586.5" font-size="6.5" text-anchor="end" fill="#2a2a2a" stroke="#2a2a2a" stroke-width="0.1">26</text>
<text x="369.8" y="586.5" font-size="6.5" text-anchor="end" fill="#2a2a2a" stroke="#2a2a2a" stroke-width="0.1">20</text>
<text x="402.4" y="586.5" font-size="6.5" text-anchor="end" fill="#2a2a2a" stroke="#2a2a2a" stroke-width="0.1">10</text>
<text x="435.8" y="586.5" font-size="6.5" text-anchor="end" fill="#2a2a2a" stroke="#2a2a2a" stroke-width="0.1">2</text>
<text x="467" y="586.5" font-size="6.5" text-anchor="end" fill="#2a2a2a" stroke="#2a2a2a" stroke-width="0.1">1</text>
<text x="287" y="594.5" font-size="6.5" text-anchor="middle" fill="#2a2a2a" stroke="#2a2a2a" stroke-width="0.1">4</text>
<text x="303.3" y="594.5" font-size="6.5" text-anchor="end" fill="#2a2a2a" stroke="#2a2a2a" stroke-width="0.1">14</text>
<text x="335.8" y="594.5" font-size="6.5" text-anchor="end" fill="#2a2a2a" stroke="#2a2a2a" stroke-width="0.1">8</text>
<text x="369.8" y="594.5" font-size="6.5" text-anchor="end" fill="#2a2a2a" stroke="#2a2a2a" stroke-width="0.1">5</text>
<text x="402.4" y="594.5" font-size="6.5" text-anchor="end" fill="#2a2a2a" stroke="#2a2a2a" stroke-width="0.1">3</text>
<text x="435.8" y="594.5" font-size="6.5" text-anchor="end" fill="#2a2a2a" stroke="#2a2a2a" stroke-width="0.1">3</text>
<rect x="0.5" y="0.5" width="519" height="602" fill="none" stroke="#555" stroke-width="1"/>
</svg></body></html>
